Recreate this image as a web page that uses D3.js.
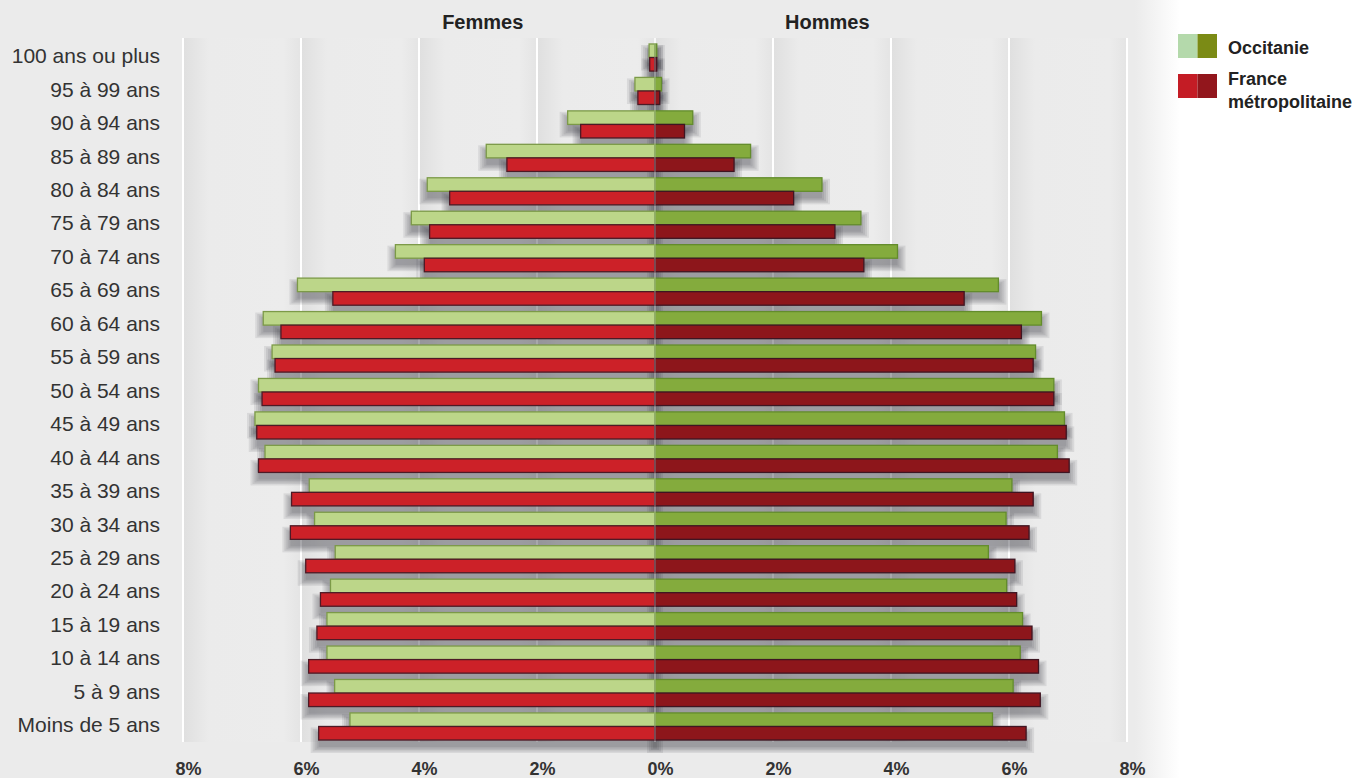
<!DOCTYPE html>
<html>
<head>
<meta charset="utf-8">
<script src="https://cdn.jsdelivr.net/npm/d3@7"></script>
<style>
  body { margin: 0; background: #ebebeb; font-family: "Liberation Sans", Arial, sans-serif; }
</style>
</head>
<body>
<div id="chart"></div>
<script>
// age groups, youngest first
var ages = ["Moins de 5 ans", "5 à 9 ans", "10 à 14 ans", "15 à 19 ans", "20 à 24 ans",
    "25 à 29 ans", "30 à 34 ans", "35 à 39 ans", "40 à 44 ans", "45 à 49 ans",
    "50 à 54 ans", "55 à 59 ans", "60 à 64 ans", "65 à 69 ans", "70 à 74 ans",
    "75 à 79 ans", "80 à 84 ans", "85 à 89 ans", "90 à 94 ans", "95 à 99 ans", "100 ans ou plus"];

// % of population
var femmesOccitanie = [5.17, 5.43, 5.56, 5.56, 5.50, 5.42, 5.77, 5.86, 6.61, 6.78,
    6.72, 6.49, 6.64, 6.06, 4.40, 4.13, 3.86, 2.86, 1.48, 0.34, 0.10];
var femmesFrance = [5.70, 5.87, 5.87, 5.73, 5.67, 5.92, 6.18, 6.16, 6.72, 6.75,
    6.66, 6.44, 6.34, 5.46, 3.91, 3.82, 3.48, 2.51, 1.26, 0.29, 0.09];
var hommesOccitanie = [5.72, 6.07, 6.19, 6.23, 5.96, 5.65, 5.95, 6.05, 6.82, 6.94,
    6.76, 6.45, 6.55, 5.82, 4.11, 3.49, 2.83, 1.62, 0.64, 0.11, 0.03];
var hommesFrance = [6.29, 6.53, 6.50, 6.39, 6.13, 6.10, 6.34, 6.41, 7.02, 6.97,
    6.76, 6.41, 6.21, 5.24, 3.54, 3.05, 2.35, 1.34, 0.50, 0.08, 0.03];

var tickValues = [-8, -6, -4, -2, 0, 2, 4, 6, 8];

var width = 1357,
    height = 778;

var svg = d3.select("#chart").append("svg")
    .attr("width", width)
    .attr("height", height);

var defs = svg.append("defs");

// fade from grey to the white legend area
var bgGrad = defs.append("linearGradient").attr("id", "bgfade");
bgGrad.append("stop").attr("offset", "0%").attr("stop-color", "#ebebeb");
bgGrad.append("stop").attr("offset", "100%").attr("stop-color", "#ffffff");

// soft shading inside each grid column
var colGrad = defs.append("linearGradient").attr("id", "colshade");
colGrad.append("stop").attr("offset", "0%").attr("stop-color", "#dfdfdf");
colGrad.append("stop").attr("offset", "22%").attr("stop-color", "#ebebeb");
colGrad.append("stop").attr("offset", "85%").attr("stop-color", "#ececec");
colGrad.append("stop").attr("offset", "100%").attr("stop-color", "#e4e4e4");

svg.append("rect").attr("width", width).attr("height", height).attr("fill", "#ebebeb");
svg.append("rect").attr("x", 1135).attr("width", 45).attr("height", height).attr("fill", "url(#bgfade)");
svg.append("rect").attr("x", 1180).attr("width", width - 1180).attr("height", height).attr("fill", "#ffffff");

var x = d3.scaleLinear()
    .domain([-8, 8])
    .range([183, 1127]);

var y = d3.scaleBand()
    .domain(ages.slice().reverse())
    .range([40.8, 743.2])
    .paddingInner(0.19)
    .paddingOuter(0.095);

var sub = d3.scaleBand()
    .domain(["occ", "fr"])
    .range([0, y.bandwidth()]);

var gridTop = 38, gridBottom = 742;

// column shading
svg.append("g").selectAll("rect")
    .data(tickValues.slice(0, -1))
    .join("rect")
    .attr("x", function (d) { return x(d); })
    .attr("y", gridTop)
    .attr("width", function (d) { return x(d + 2) - x(d); })
    .attr("height", gridBottom - gridTop)
    .attr("fill", "url(#colshade)");

// grid lines
svg.append("g").selectAll("line")
    .data(tickValues)
    .join("line")
    .attr("x1", function (d) { return x(d); })
    .attr("x2", function (d) { return x(d); })
    .attr("y1", gridTop)
    .attr("y2", gridBottom)
    .attr("stroke", "#ffffff")
    .attr("stroke-width", function (d) { return d === 0 ? 1.5 : 2; });

var series = [
    { values: femmesOccitanie, side: -1, key: "occ", fill: "#bcd689", stroke: "#7c9a48" },
    { values: femmesFrance, side: -1, key: "fr", fill: "#cc2128", stroke: "#4d1a26" },
    { values: hommesOccitanie, side: 1, key: "occ", fill: "#84ab3d", stroke: "#638c2c" },
    { values: hommesFrance, side: 1, key: "fr", fill: "#8d161b", stroke: "#3e1522" }
];

function barX(s, d) { return s.side < 0 ? x(-d) : x(0); }
function barW(s, d) { return Math.abs(x(s.side * d) - x(0)); }
function barY(s, i) { return y(ages[i]) + sub(s.key); }

// soft shadow under the bars, built from a few widening translucent layers
var shadowLayers = [0, 2, 4, 6, 8];
var shadows = svg.append("g");
shadowLayers.forEach(function (e) {
    series.forEach(function (s) {
        shadows.append("g").selectAll("rect")
            .data(s.values)
            .join("rect")
            .attr("x", function (d) { return barX(s, d) - e; })
            .attr("y", function (d, i) { return barY(s, i) + 7 - e * 0.75; })
            .attr("width", function (d) { return barW(s, d) + 2 * e; })
            .attr("height", sub.bandwidth() + 1.5 * e)
            .attr("fill", "#34343f")
            .attr("fill-opacity", 0.1);
    });
});

var bars = svg.append("g");
series.forEach(function (s) {
    bars.append("g").selectAll("rect")
        .data(s.values)
        .join("rect")
        .attr("x", function (d) { return barX(s, d); })
        .attr("y", function (d, i) { return barY(s, i); })
        .attr("width", function (d) { return barW(s, d); })
        .attr("height", sub.bandwidth())
        .attr("fill", s.fill)
        .attr("stroke", s.stroke)
        .attr("stroke-width", 1.3);
});

// thin centre line over the bars
svg.append("line")
    .attr("x1", x(0)).attr("x2", x(0))
    .attr("y1", gridTop).attr("y2", gridBottom)
    .attr("stroke", "#ffffff")
    .attr("stroke-opacity", 0.45)
    .attr("stroke-width", 1);

// age labels
var yAxis = svg.append("g")
    .attr("transform", "translate(160,-1)")
    .call(d3.axisLeft(y).tickSize(0).tickPadding(0));
yAxis.select(".domain").remove();
yAxis.selectAll("text")
    .style("font-family", "'Liberation Sans', Arial, sans-serif")
    .style("font-size", "21px")
    .attr("fill", "#333333");

// percent labels
var xAxis = svg.append("g")
    .attr("transform", "translate(5,762)")
    .call(d3.axisBottom(x).tickValues(tickValues).tickSize(0).tickPadding(0)
        .tickFormat(function (d) { return Math.abs(d) + "%"; }));
xAxis.select(".domain").remove();
xAxis.selectAll("text")
    .style("font-family", "'Liberation Sans', Arial, sans-serif")
    .style("font-size", "18px")
    .style("font-weight", "bold")
    .attr("fill", "#333333");

// side titles
svg.append("text")
    .attr("x", x(-2.92)).attr("y", 28.5)
    .attr("text-anchor", "middle")
    .style("font-size", "20px").style("font-weight", "bold")
    .attr("fill", "#222222")
    .text("Femmes");
svg.append("text")
    .attr("x", x(2.92)).attr("y", 28.5)
    .attr("text-anchor", "middle")
    .style("font-size", "20px").style("font-weight", "bold")
    .attr("fill", "#222222")
    .text("Hommes");

// legend
var legend = svg.append("g").attr("transform", "translate(1178,34)");
var legendItems = [
    { colors: ["#b4d9ab", "#7b8b15"], lines: ["Occitanie"], y: 0 },
    { colors: ["#c41c25", "#92161c"], lines: ["France", "métropolitaine"], y: 40 }
];
legendItems.forEach(function (item) {
    legend.append("rect").attr("x", 0).attr("y", item.y).attr("width", 19.5).attr("height", 24).attr("fill", item.colors[0]);
    legend.append("rect").attr("x", 19.5).attr("y", item.y).attr("width", 19.5).attr("height", 24).attr("fill", item.colors[1]);
    item.lines.forEach(function (t, j) {
        legend.append("text")
            .attr("x", 50)
            .attr("y", item.y + 19.5 + j * 23 - (item.lines.length > 1 ? 9 : 0))
            .style("font-size", "18px").style("font-weight", "bold")
            .attr("fill", "#222222")
            .text(t);
    });
});
</script>
</body>
</html>
